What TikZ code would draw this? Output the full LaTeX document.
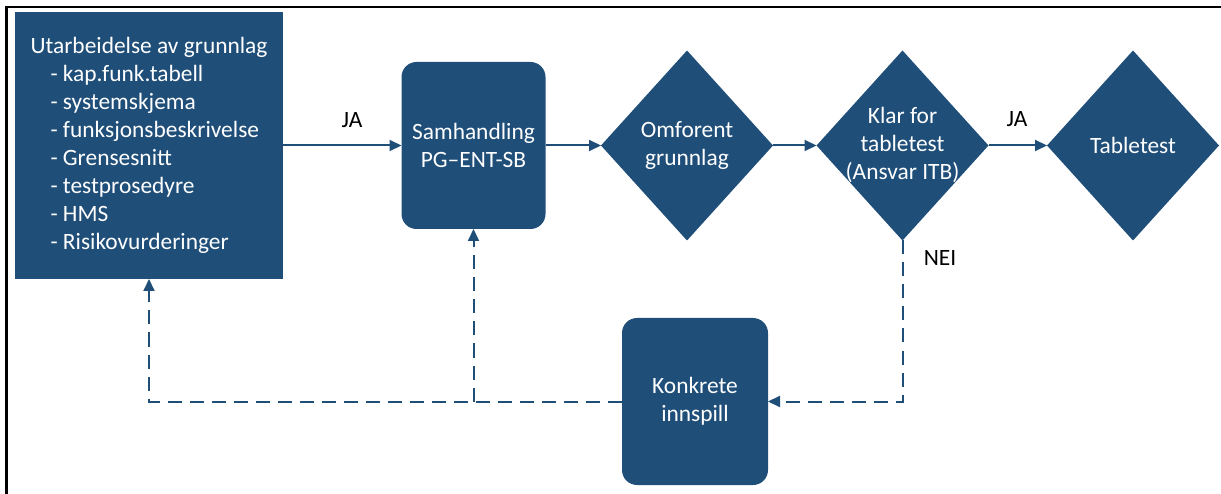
\documentclass[tikz,border=0pt]{standalone}
\usepackage{fontspec}
\setmainfont{Carlito}
\usetikzlibrary{shapes.geometric,arrows.meta}
\definecolor{navy}{HTML}{1F4E79}
\begin{document}
\begin{tikzpicture}[x=1pt,y=-1pt,
  txt/.style={font=\fontsize{23.4}{28}\selectfont},
  blk/.style={fill=navy, text=white, txt, inner sep=0pt, outer sep=0pt},
  rbox/.style={blk, rounded corners=15pt, minimum width=144pt, minimum height=167pt, align=center},
  dmd/.style={diamond, fill=navy, minimum width=172pt, minimum height=190pt, inner sep=0pt, outer sep=0pt},
  inlab/.style={txt, text=white, align=center},
  flow/.style={draw=navy, line width=2pt, -{Triangle[length=12pt,width=11pt]}},
  back/.style={flow, dash pattern=on 14pt off 8pt},
  lab/.style={txt, text=black}]
\useasboundingbox (0,0) rectangle (1221,494);
\coordinate (fa) at (6.5,494);
\coordinate (fb) at (6.5,7);
\coordinate (fc) at (1221,7);
\draw[line width=2.5pt] (fa) -- (fb) -- (fc);

\node[blk, minimum width=268pt, minimum height=267pt, align=left] (grunn) at (149,145.5)
 {Utarbeidelse av grunnlag\\
  \hspace*{20pt}- kap.funk.tabell\\
  \hspace*{20pt}- systemskjema\\
  \hspace*{20pt}- funksjonsbeskrivelse\\
  \hspace*{20pt}- Grensesnitt\\
  \hspace*{20pt}- testprosedyre\\
  \hspace*{20pt}- HMS\\
  \hspace*{20pt}- Risikovurderinger};

\node[rbox] (samh) at (473.5,145.5) {Samhandling\\PG–ENT-SB};
\node[rbox, minimum width=146pt] (konk) at (695,401.5) {Konkrete\\innspill};

\node[dmd, label={[inlab]center:{Omforent\\grunnlag}}] (omf) at (687,145.5) {};
\node[dmd, label={[inlab]center:{Klar for\\tabletest\\(Ansvar ITB)}}] (klar) at (902.5,145.5) {};
\node[dmd, label={[inlab]center:{Tabletest}}] (table) at (1133,145.5) {};

\draw[flow] (grunn.east) -- (samh.west);
\draw[flow] (samh.east) -- (omf.west);
\draw[flow] (omf.east) -- (klar.west);
\draw[flow] (klar.east) -- (table.west);
\draw[back] (klar.south) |- (konk.east);
\draw[back] (konk.west) -| (grunn.south);
\draw[back] (samh.south |- konk.west) -- (samh.south);

\node[lab] (ja1) at (352,120) {JA};
\node[lab] (ja2) at (1017,119) {JA};
\node[lab] (nei) at (940,258) {NEI};
\end{tikzpicture}
\end{document}
